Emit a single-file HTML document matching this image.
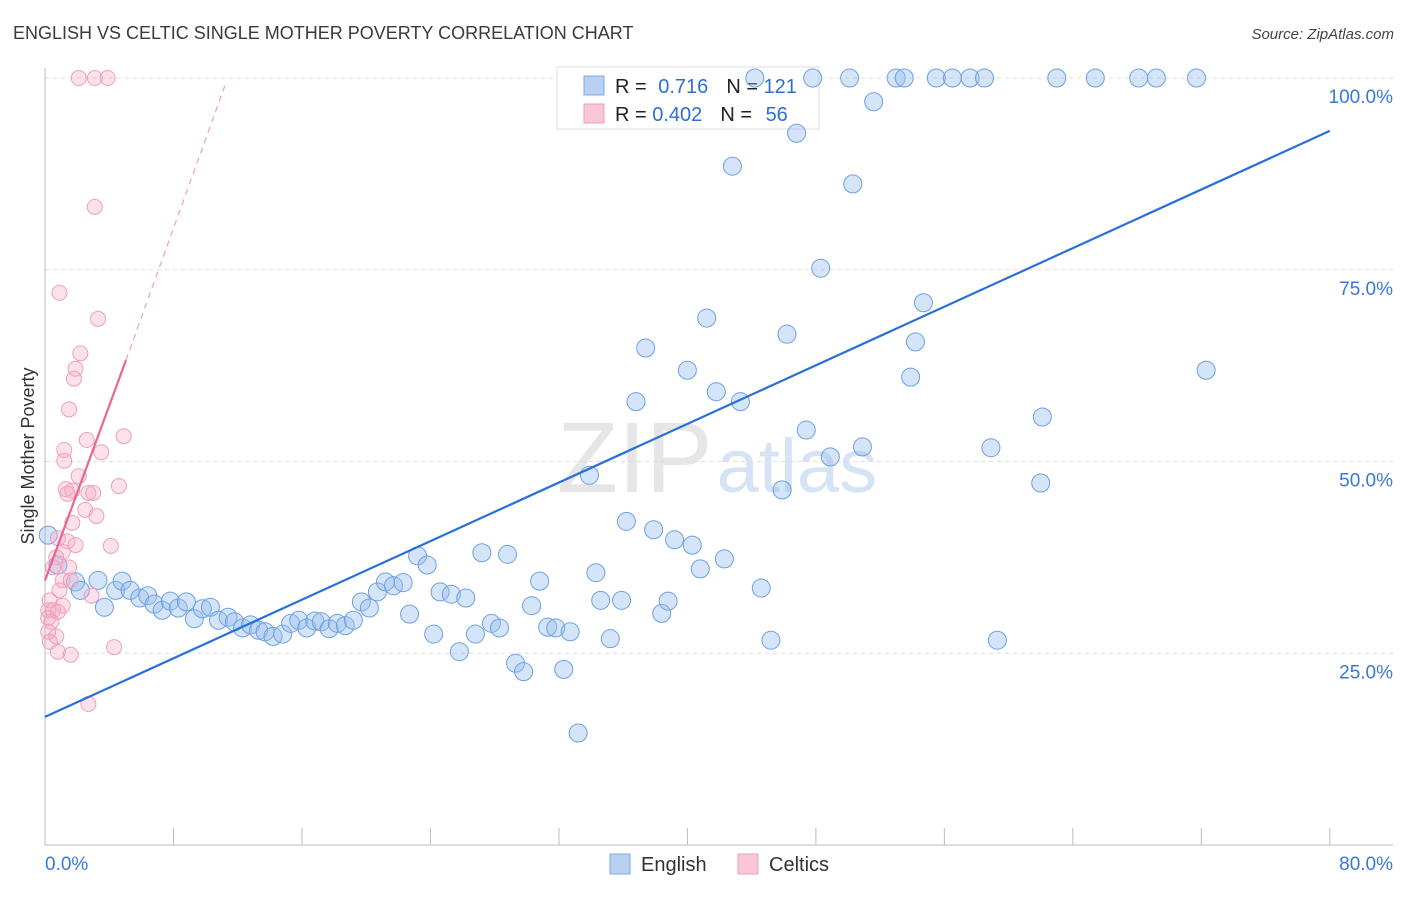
<!DOCTYPE html>
<html><head><meta charset="utf-8"><style>
body{margin:0;background:#fff;font-family:"Liberation Sans",sans-serif}
svg text{font-family:"Liberation Sans",sans-serif}
</style></head><body>
<svg id="chart" width="1406" height="892" xmlns="http://www.w3.org/2000/svg">
<text x="13" y="39" font-size="18" fill="#3a3a3a">ENGLISH VS CELTIC SINGLE MOTHER POVERTY CORRELATION CHART</text>
<text x="1394" y="39" font-size="15" fill="#444" text-anchor="end" font-style="italic">Source: ZipAtlas.com</text>
<text x="557" y="492" font-size="100" fill="#e6e6e6" font-family="Liberation Serif"><tspan>ZIP</tspan><tspan fill="#d6e3f4" font-family="Liberation Sans" font-size="76" dx="4">atlas</tspan></text>
<text transform="translate(34,456) rotate(-90)" font-size="18" fill="#333" text-anchor="middle">Single Mother Poverty</text>
<g id="grid"></g><g id="axes"></g>
<g>
<rect x="557" y="67" width="262" height="62" fill="#fff" stroke="#ddd"/>
<rect x="584" y="76" width="20" height="19" fill="#b8d0f2" stroke="#7fa8e0"/>
<rect x="584" y="104" width="20" height="19" fill="#f9c6d5" stroke="#ee9fb9"/>
<text x="615" y="93" font-size="20" fill="#222">R = <tspan fill="#2f6fd3" dx="6">0.716</tspan><tspan dx="18" fill="#222">N = </tspan><tspan fill="#2f6fd3">121</tspan></text>
<text x="615" y="121" font-size="20" fill="#222">R = <tspan fill="#2f6fd3">0.402</tspan><tspan dx="18" fill="#222">N = </tspan><tspan fill="#2f6fd3" dx="8">56</tspan></text>
</g>
<g id="marks"></g>
<g>
<rect x="610" y="854" width="20" height="20" fill="#b8d0f2" stroke="#7fa8e0"/>
<text x="641" y="871" font-size="20" fill="#333">English</text>
<rect x="738" y="854" width="20" height="20" fill="#f9c6d5" stroke="#ee9fb9"/>
<text x="769" y="871" font-size="20" fill="#333">Celtics</text>
</g>
</svg>
<script>
const englishX=[0.2,0.8,1.9,2.2,3.3,3.7,4.4,4.8,5.3,5.9,6.4,6.8,7.3,7.8,8.3,8.8,9.3,9.8,10.3,10.8,11.4,11.8,12.3,12.8,13.3,13.7,14.2,14.8,15.3,15.8,16.3,16.8,17.2,17.7,18.2,18.7,19.2,19.7,20.2,20.7,21.2,21.7,22.3,22.7,23.2,23.8,24.2,24.6,25.3,25.8,26.2,26.8,27.2,27.8,28.3,28.8,29.3,29.8,30.3,30.8,31.3,31.8,32.3,32.7,33.2,33.9,34.3,34.6,35.2,35.9,36.2,36.8,37.4,37.9,38.4,38.8,39.2,40.0,40.3,40.8,41.2,41.8,42.3,42.8,43.3,44.2,44.6,45.2,45.9,46.2,46.8,47.4,47.8,48.3,48.9,50.1,50.3,50.9,51.6,53.0,53.5,53.9,54.2,54.7,55.5,56.5,57.6,58.5,58.9,59.3,62.0,62.1,63.0,65.4,68.1,69.2,71.7,72.3];
const englishY=[40.4,36.5,34.3,33.2,34.5,31.0,33.2,34.4,33.2,32.2,32.5,31.4,30.6,31.8,30.9,31.7,29.5,30.8,31.0,29.3,29.7,29.1,28.3,28.7,28.0,27.8,27.2,27.5,28.9,29.3,28.3,29.2,29.1,28.2,28.9,28.6,29.3,31.7,30.9,33.0,34.3,33.8,34.2,30.1,37.7,36.5,27.5,33.0,32.7,25.2,32.2,27.5,38.1,28.9,28.3,37.9,23.7,22.6,31.2,34.4,28.4,28.3,22.9,27.8,14.6,48.2,35.5,31.9,26.9,31.9,42.2,57.8,64.8,41.1,30.2,31.8,39.8,61.9,39.1,36.0,68.7,59.1,37.3,88.5,57.8,100,33.5,26.7,46.3,66.6,92.8,54.1,100,75.2,50.6,100,86.2,51.9,96.9,100,100,61.0,65.6,70.7,100,100,100,100,51.8,26.7,47.2,55.8,100,100,100,100,100,61.9];
const celticX=[2.1,3.1,3.9,3.1,0.9,3.3,2.2,1.9,1.8,1.5,4.9,2.6,1.2,3.5,1.2,2.1,4.6,1.3,1.7,2.7,3.0,1.4,2.5,3.2,1.7,0.8,1.4,1.9,4.1,1.1,0.7,0.5,1.5,1.1,1.6,0.9,2.9,0.3,1.1,0.2,0.5,0.8,0.2,0.4,0.2,0.7,0.3,4.3,0.8,1.6,2.7];
const celticY=[100,100,100,83.2,72.0,68.6,64.1,62.1,60.8,56.8,53.3,52.8,51.5,51.2,50.1,48.1,46.8,46.4,46.2,45.9,45.9,45.8,43.7,42.9,42.0,40.0,39.6,39.1,39.0,38.2,37.5,36.2,36.2,34.5,34.5,33.2,32.5,31.9,31.2,30.6,30.6,30.4,29.6,29.1,27.8,27.2,26.5,25.8,25.2,24.8,18.4];
const englishTrend=[[0,16.7],[80,93.1]];
const celticTrend=[[0,34.5],[5.04,63.2]];
const celticDash=[[5.04,63.2],[11.2,99]];
const yTicks=[25,50,75,100];
const xTickVals=[0,8,16,24,32,40,48,56,64,72,80];
const NS='http://www.w3.org/2000/svg';
const sx=v=>45+v*16.06, sy=v=>845-v*7.67;
function mk(t,a,p){const e=document.createElementNS(NS,t);for(const k in a)e.setAttribute(k,a[k]);p.appendChild(e);return e;}
const grid=document.getElementById('grid'),axes=document.getElementById('axes'),marks=document.getElementById('marks');
yTicks.forEach(v=>{
 const l=mk('line',{x1:45,x2:1393,y1:sy(v),y2:sy(v),stroke:'#ddd','stroke-dasharray':'4,4'},grid);
 
 
 const t=mk('text',{x:1393,y:sy(v)+25,'font-size':19,fill:'#3a78d8','text-anchor':'end'},grid);
 t.textContent=v.toFixed(1)+'%';
 
 
});
const ya=mk('line',{x1:45,x2:45,y1:68,y2:845,stroke:'#bbb'},axes);


const xa=mk('line',{x1:45,x2:1393,y1:845,y2:845,stroke:'#bbb'},axes);


xTickVals.forEach(v=>{
 const t=mk('line',{x1:sx(v),x2:sx(v),y1:828,y2:845,stroke:'#bbb'},axes);
 
 
});
[[0,'start','0.0%'],[80,'end','80.0%']].forEach(([v,a,s])=>{
 const t=mk('text',{x:v==0?45:1393,y:870,'font-size':19,fill:'#3a78d8','text-anchor':a},axes);
 t.textContent=s;
 
 
});
englishX.forEach((x,i)=>{
 const c=mk('circle',{cx:sx(x),cy:sy(englishY[i]),r:9,fill:'rgba(150,190,240,0.4)',stroke:'#6fa0e0','stroke-width':1},marks);
 
 
});
celticX.forEach((x,i)=>{
 const c=mk('circle',{cx:sx(x),cy:sy(celticY[i]),r:7.5,fill:'rgba(245,170,195,0.35)',stroke:'#eea0ba','stroke-width':1},marks);
 
 
});
const el=mk('line',{x1:sx(englishTrend[0][0]),y1:sy(englishTrend[0][1]),x2:sx(englishTrend[1][0]),y2:sy(englishTrend[1][1]),stroke:'#2a6fd8','stroke-width':2.2},marks);


const cl=mk('line',{x1:sx(celticTrend[0][0]),y1:sy(celticTrend[0][1]),x2:sx(celticTrend[1][0]),y2:sy(celticTrend[1][1]),stroke:'#e8668f','stroke-width':2.2},marks);


const cd=mk('line',{x1:sx(celticDash[0][0]),y1:sy(celticDash[0][1]),x2:sx(celticDash[1][0]),y2:sy(celticDash[1][1]),stroke:'#eea0ba','stroke-width':1.2,'stroke-dasharray':'6,5'},marks);


</script>
</body></html>
